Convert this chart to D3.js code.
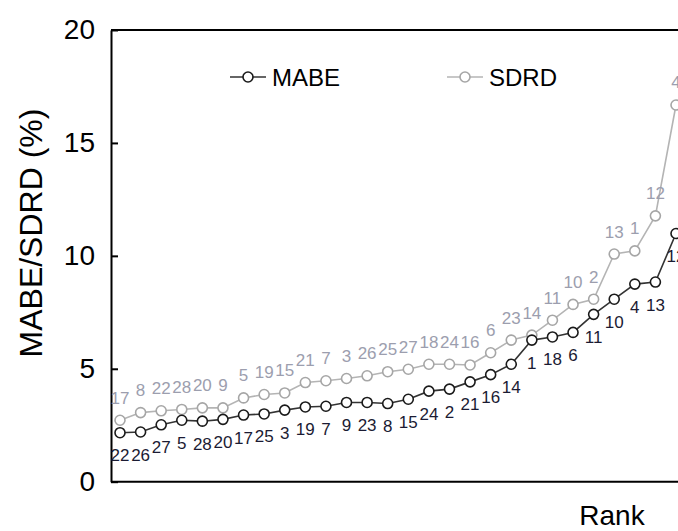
<!DOCTYPE html>
<html>
<head>
<meta charset="utf-8">
<script src="https://cdn.jsdelivr.net/npm/d3@7"></script>
<style>
  body { margin: 0; background: #fff; }
  svg { display: block; font-family: Arial, "Liberation Sans", sans-serif; }
</style>
</head>
<body>
<div id="chart"></div>
<script>

// Data

const ranks = d3.range(1, 29);                                                         // Rank 1..28

const mabeValues = [2.17, 2.2, 2.52, 2.72, 2.68, 2.76, 2.95, 3.0, 3.17, 3.31,
                    3.34, 3.51, 3.51, 3.46, 3.65, 4.01, 4.1, 4.42, 4.74, 5.2,
                    6.27, 6.41, 6.61, 7.41, 8.08, 8.75, 8.84, 10.99];                  // MABE (%)
const mabeLabels = ["22","26","27","5","28","20","17","25","3","19",
                    "7","9","23","8","15","24","2","21","16","14",
                    "1","18","6","11","10","4","13","12"];                             // Station id under each MABE point

const sdrdValues = [2.72, 3.06, 3.14, 3.2, 3.27, 3.27, 3.71, 3.86, 3.93, 4.39,
                    4.47, 4.57, 4.69, 4.87, 4.98, 5.2, 5.2, 5.17, 5.71, 6.27,
                    6.49, 7.15, 7.85, 8.08, 10.08, 10.22, 11.77, 16.68];               // SDRD (%)
const sdrdLabels = ["17","8","22","28","20","9","5","19","15","21",
                    "7","3","26","25","27","18","24","16","6","23",
                    "14","11","10","2","13","1","12","4"];                             // Station id above each SDRD point

const yTicks = [0, 5, 10, 15, 20];

// Layout

const W = 678, H = 531;
const plotLeft = 111, plotTop = 30, plotBottom = 481.7, plotRight = 720;               // right edge runs past the window

const x = d3.scaleLinear().domain([1, 28]).range([120, 676]);
const y = d3.scaleLinear().domain([0, 20]).range([plotBottom, plotTop]);

const svg = d3.select("#chart").append("svg")
    .attr("width", W)
    .attr("height", H);

// Frame (top and bottom lines)

svg.append("line")
    .attr("x1", plotLeft).attr("x2", plotRight)
    .attr("y1", plotTop).attr("y2", plotTop)
    .attr("stroke", "#000").attr("stroke-width", 2);
svg.append("line")
    .attr("x1", plotLeft).attr("x2", plotRight)
    .attr("y1", plotBottom).attr("y2", plotBottom)
    .attr("stroke", "#000").attr("stroke-width", 2);

// Y axis with inward ticks

const yAxis = d3.axisLeft(y)
    .tickValues(yTicks)
    .tickSizeInner(-7)
    .tickSizeOuter(0)
    .tickPadding(16);

const gy = svg.append("g")
    .attr("transform", "translate(" + plotLeft + ",0)")
    .call(yAxis);
gy.select(".domain").attr("stroke", "#000").attr("stroke-width", 2);
gy.selectAll(".tick line").attr("stroke", "#000").attr("stroke-width", 2);
gy.selectAll(".tick text")
    .attr("font-size", 28)
    .attr("fill", "#000")
    .attr("dy", "0.3em");

// Axis titles

svg.append("text")
    .attr("transform", "translate(31,233) rotate(-90)")
    .attr("text-anchor", "middle")
    .attr("dominant-baseline", "central")
    .attr("font-size", 32)
    .attr("fill", "#000")
    .text("MABE/SDRD (%)");

svg.append("text")
    .attr("x", 612).attr("y", 525)
    .attr("text-anchor", "middle")
    .attr("font-size", 28)
    .attr("fill", "#000")
    .text("Rank");

// Series

const series = [
    {name: "MABE", values: mabeValues, labels: mabeLabels, line: "#333", ring: "#1a1a1a", text: "#1b1b33", dy: 23},
    {name: "SDRD", values: sdrdValues, labels: sdrdLabels, line: "#b4b4b4", ring: "#a6a6a6", text: "#9c9eae", dy: -22}
];

const line = d3.line()
    .x(d => x(d.rank))
    .y(d => y(d.value));

// draw SDRD first so MABE sits on top
series.slice().reverse().forEach(s => {
    const pts = ranks.map((r, i) => ({rank: r, value: s.values[i], label: s.labels[i]}));
    const g = svg.append("g");

    g.append("path")
        .datum(pts)
        .attr("fill", "none")
        .attr("stroke", s.line)
        .attr("stroke-width", 1.6)
        .attr("d", line);

    g.selectAll("circle")
        .data(pts)
        .enter()
        .append("circle")
            .attr("cx", d => x(d.rank))
            .attr("cy", d => y(d.value))
            .attr("r", 5)
            .attr("fill", "#fff")
            .attr("stroke", s.ring)
            .attr("stroke-width", 1.6);

    g.selectAll("text")
        .data(pts)
        .enter()
        .append("text")
            .attr("x", d => x(d.rank))
            .attr("y", d => y(d.value) + s.dy)
            .attr("text-anchor", "middle")
            .attr("dominant-baseline", "central")
            .attr("font-size", 17)
            .attr("fill", s.text)
            .text(d => d.label);
});

// Legend

const legend = [
    {name: "MABE", x: 230, line: "#333", ring: "#1a1a1a"},
    {name: "SDRD", x: 447, line: "#b4b4b4", ring: "#a6a6a6"}
];
const legendY = 77;

legend.forEach(l => {
    const g = svg.append("g").attr("transform", "translate(" + l.x + "," + legendY + ")");
    g.append("line")
        .attr("x1", 0).attr("x2", 36)
        .attr("stroke", l.line).attr("stroke-width", 1.6);
    g.append("circle")
        .attr("cx", 18).attr("r", 5)
        .attr("fill", "#fff").attr("stroke", l.ring).attr("stroke-width", 1.6);
    g.append("text")
        .attr("x", 42)
        .attr("dominant-baseline", "central")
        .attr("font-size", 24)
        .attr("fill", "#000")
        .text(l.name);
});

</script>
</body>
</html>
